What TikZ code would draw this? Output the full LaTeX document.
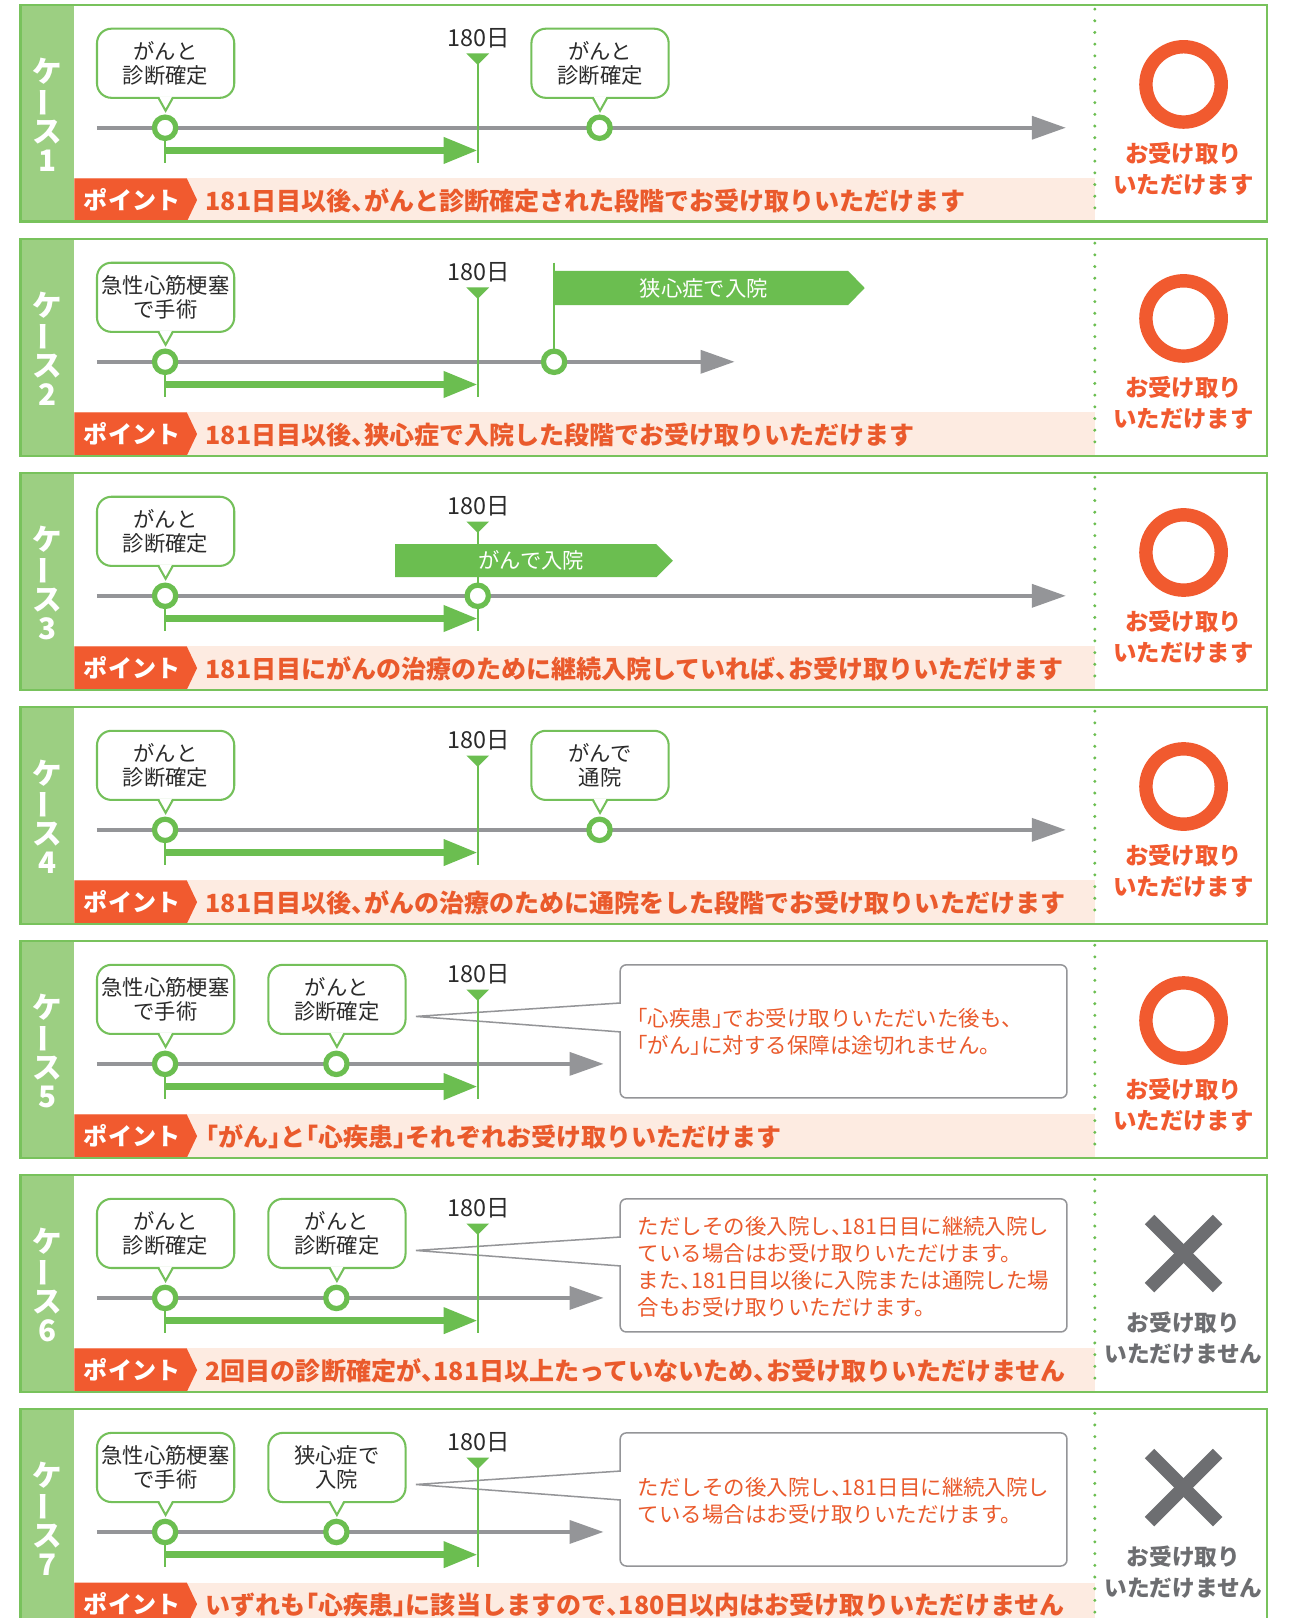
\documentclass[tikz,border=0pt]{standalone}
\usepackage{fontspec}
\setmainfont{Noto Sans CJK JP}
\usetikzlibrary{arrows.meta}
\definecolor{frameG}{HTML}{78C25C}
\definecolor{stripG}{HTML}{9CCF82}
\definecolor{lineG}{HTML}{6BBE50}
\definecolor{callG}{HTML}{74C05A}
\definecolor{orng}{HTML}{F15A2F}
\definecolor{ptext}{HTML}{EA5A2C}
\definecolor{peach}{HTML}{FDEBE1}
\definecolor{gline}{HTML}{949598}
\definecolor{xgray}{HTML}{6D6E71}
\definecolor{txt}{HTML}{2B2B2B}
\newcommand\hp[1]{{\addfontfeature{RawFeature=+halt}#1}}
\tikzset{
 frame/.style={draw=frameG, line width=1.7pt},
 sepdots/.style={draw=lineG, line width=2.4pt, line cap=round, dash pattern=on 0pt off 8.5pt},
 caselabel/.style={text=white, font=\bfseries\fontsize{21.5}{22}\selectfont, inner sep=0pt},
 tagtext/.style={text=white, font=\bfseries\fontsize{17.5}{18}\selectfont, inner sep=0pt},
 pointtext/.style={text=ptext, font=\bfseries\fontsize{18.2}{19}\selectfont, anchor=west, inner sep=0pt},
 callout/.style={draw=callG, line width=1.5pt, fill=white, rounded corners=10.5pt, minimum width=99.75pt, minimum height=50.25pt, inner sep=0pt, outer sep=0pt, align=center, text=txt, font=\fontsize{15.5}{17.25}\selectfont},
 cpoint/.style={draw=callG, line width=1.5pt},
 tl/.style={draw=gline, line width=3.2pt, -{Triangle[length=24.75pt,width=16.5pt]}},
 garrow/.style={draw=lineG, line width=5.25pt, -{Triangle[length=24.75pt,width=18pt]}},
 thinG/.style={draw=lineG, line width=1.1pt},
 evt/.style={circle, draw=lineG, line width=3.8pt, fill=white, minimum size=15.5pt, inner sep=0pt},
 daylabel/.style={text=txt, font=\fontsize{17}{17}\selectfont, inner sep=0pt},
 bannerfill/.style={fill=lineG},
 bannertext/.style={text=white, font=\fontsize{15.5}{16}\selectfont, inner sep=0pt},
 infobox/.style={draw=gline, line width=1.1pt, fill=white, rounded corners=4.5pt, minimum width=324.75pt, minimum height=96.75pt, inner sep=0pt, outer sep=0pt},
 infotext/.style={text=ptext, font=\fontsize{15.6}{19.5}\selectfont, align=left, anchor=west, inner sep=0pt},
 wedgeline/.style={draw=gline, line width=1.1pt},
 okring/.style={circle, draw=orng, line width=9.75pt, minimum size=54.75pt, inner sep=0pt},
 oktext/.style={text=orng, font=\bfseries\fontsize{17}{22.5}\selectfont, align=center, inner sep=0pt},
 ngtext/.style={text=xgray, font=\bfseries\fontsize{16.5}{22.5}\selectfont, align=center, inner sep=0pt},
 xmark/.style={draw=xgray, line width=9.75pt},
}
\newcommand\caseframe[2]{%
  \fill[stripG] (20,0) rectangle (72,210);
  \fill[peach] (72,168) rectangle (1061,210);
  \fill[orng] (72,168) -- (181,168) -- (191,189) -- (181,210) -- (72,210) -- cycle;
  \node[tagtext] (tag#1) at (128,189) {ポイント};
  \node[pointtext] (pt#1) at (199,190) {#2};
  \draw[sepdots] (1061,4) -- (1061,207);
  \node[caselabel] (k#1) at (46,64) {ケ};
  \node[caselabel, rotate=90] (b#1) at (46,95) {ー};
  \node[caselabel] (s#1) at (46,123) {ス};
  \node[caselabel] (n#1) at (46,151) {#1};
  \draw[frame] (20,0) rectangle (1228,210);
}
\newcommand\okmark[1]{%
  \node[okring] (ring#1) at (1147,77) {};
  \node[oktext] (st#1) at (1147,159) {お受け取り\\いただけます};
}
\newcommand\ngmark[1]{%
  \draw[xmark] (1114,43) -- (1180,109);
  \draw[xmark] (1114,109) -- (1180,43);
  \node[ngtext] (st#1) at (1147,158) {お受け取り\\いただけません};
}
\newcommand\basetl[2]{%
  \coordinate (ts#1) at (94,119);
  \coordinate (te#1) at (#2,119);
  \draw[tl] (ts#1) -- (te#1);
  \node[daylabel] (d#1) at (464,32) {180日};
  \fill[lineG] (452,47) -- (474,47) -- (463,58) -- cycle;
  \draw[thinG] (463,57) -- (463,153);
  \draw[thinG] (160,119) -- (160,153);
  \coordinate (gs#1) at (160,141);
  \coordinate (ge#1) at (463,141);
  \draw[garrow] (gs#1) -- (ge#1);
  \node[evt] (e#1a) at (160,119) {};
}
\newcommand\cptr[1]{%
  \fill[white] (#1.south) ++(-6.3,-1.3) -- ++(12.6,0) -- ++(-6.3,13.6) -- cycle;
  \draw[cpoint] (#1.south) ++(-7,0) -- ++(7,12.5) -- ++(7,-12.5);
}
\newcommand\infowedge[1]{%
  \coordinate (wt#1) at (403,73);
  \coordinate (wu#1) at (601,60);
  \coordinate (wl#1) at (601,88);
  \fill[white] (598,61) rectangle (604,87);
  \draw[wedgeline] (wu#1) -- (wt#1) -- (wl#1);
}
\begin{document}
\begin{tikzpicture}[x=0.75pt,y=-0.75pt]
\useasboundingbox (0,0) rectangle (1251,1568);
\clip (0,0) rectangle (1251,1568);
\fill[white] (0,0) rectangle (1251,1568);
% ---------- case 1
\begin{scope}[shift={(0,4.8)}]
\caseframe{1}{181日目以後\hp{、}がんと診断確定された段階でお受け取りいただけます}
\okmark{1}
\basetl{1}{1033}
\node[evt] (e1b) at (581,119) {};
\node[callout] (c1a) at (160.5,56.5) {がんと\\診断確定}; \cptr{c1a}
\node[callout] (c1b) at (581.5,56.5) {がんと\\診断確定}; \cptr{c1b}
\end{scope}
% ---------- case 2
\begin{scope}[shift={(0,231.6)}]
\caseframe{2}{181日目以後\hp{、}狭心症で入院した段階でお受け取りいただけます}
\okmark{2}
\basetl{2}{712}
\draw[thinG] (537,23) -- (537,119);
\fill[bannerfill] (537,31) -- (822,31) -- (838,47.5) -- (822,64) -- (537,64) -- cycle;
\node[bannertext] (bn2) at (682,48) {狭心症で入院};
\node[evt] (e2b) at (537,119) {};
\node[callout] (c2a) at (160.5,56.5) {急性心筋梗塞\\で手術}; \cptr{c2a}
\end{scope}
% ---------- case 3
\begin{scope}[shift={(0,458.4)}]
\caseframe{3}{181日目にがんの治療のために継続入院していれば\hp{、}お受け取りいただけます}
\okmark{3}
\basetl{3}{1033}
\fill[bannerfill] (383,69) -- (636,69) -- (652,85) -- (636,101) -- (383,101) -- cycle;
\node[bannertext] (bn3) at (515,85) {がんで入院};
\node[evt] (e3b) at (463,119) {};
\node[callout] (c3a) at (160.5,56.5) {がんと\\診断確定}; \cptr{c3a}
\end{scope}
% ---------- case 4
\begin{scope}[shift={(0,685.2)}]
\caseframe{4}{181日目以後\hp{、}がんの治療のために通院をした段階でお受け取りいただけます}
\okmark{4}
\basetl{4}{1033}
\node[evt] (e4b) at (581,119) {};
\node[callout] (c4a) at (160.5,56.5) {がんと\\診断確定}; \cptr{c4a}
\node[callout] (c4b) at (581.5,56.5) {がんで\\通院}; \cptr{c4b}
\end{scope}
% ---------- case 5
\begin{scope}[shift={(0,912)}]
\caseframe{5}{\hp{「}がん\hp{」}と\hp{「}心疾患\hp{」}それぞれお受け取りいただけます}
\okmark{5}
\node[infobox] (ib5) at (817.5,87.5) {};
\infowedge{5}
\basetl{5}{585}
\node[evt] (e5b) at (326,119) {};
\node[callout] (c5a) at (160.5,56.5) {急性心筋梗塞\\で手術}; \cptr{c5a}
\node[callout] (c5b) at (326.5,56.5) {がんと\\診断確定}; \cptr{c5b}
\node[infotext] (it5) at (617,88) {\hp{「}心疾患\hp{」}でお受け取りいただいた後も\hp{、}\\\hp{「}がん\hp{」}に対する保障は途切れません。};
\end{scope}
% ---------- case 6
\begin{scope}[shift={(0,1138.8)}]
\caseframe{6}{2回目の診断確定が\hp{、}181日以上たっていないため\hp{、}お受け取りいただけません}
\ngmark{6}
\node[infobox] (ib6) at (817.5,87.5) {};
\infowedge{6}
\basetl{6}{585}
\node[evt] (e6b) at (326,119) {};
\node[callout] (c6a) at (160.5,56.5) {がんと\\診断確定}; \cptr{c6a}
\node[callout] (c6b) at (326.5,56.5) {がんと\\診断確定}; \cptr{c6b}
\node[infotext] (it6) at (618,89) {ただしその後入院し\hp{、}181日目に継続入院し\\ている場合はお受け取りいただけます。\\また\hp{、}181日目以後に入院または通院した場\\合もお受け取りいただけます。};
\end{scope}
% ---------- case 7
\begin{scope}[shift={(0,1365.6)}]
\caseframe{7}{いずれも\hp{「}心疾患\hp{」}に該当しますので\hp{、}180日以内はお受け取りいただけません}
\ngmark{7}
\node[infobox] (ib7) at (817.5,87.5) {};
\infowedge{7}
\basetl{7}{585}
\node[evt] (e7b) at (326,119) {};
\node[callout] (c7a) at (160.5,56.5) {急性心筋梗塞\\で手術}; \cptr{c7a}
\node[callout] (c7b) at (326.5,56.5) {狭心症で\\入院}; \cptr{c7b}
\node[infotext] (it7) at (618,89) {ただしその後入院し\hp{、}181日目に継続入院し\\ている場合はお受け取りいただけます。};
\end{scope}
\end{tikzpicture}
\end{document}
